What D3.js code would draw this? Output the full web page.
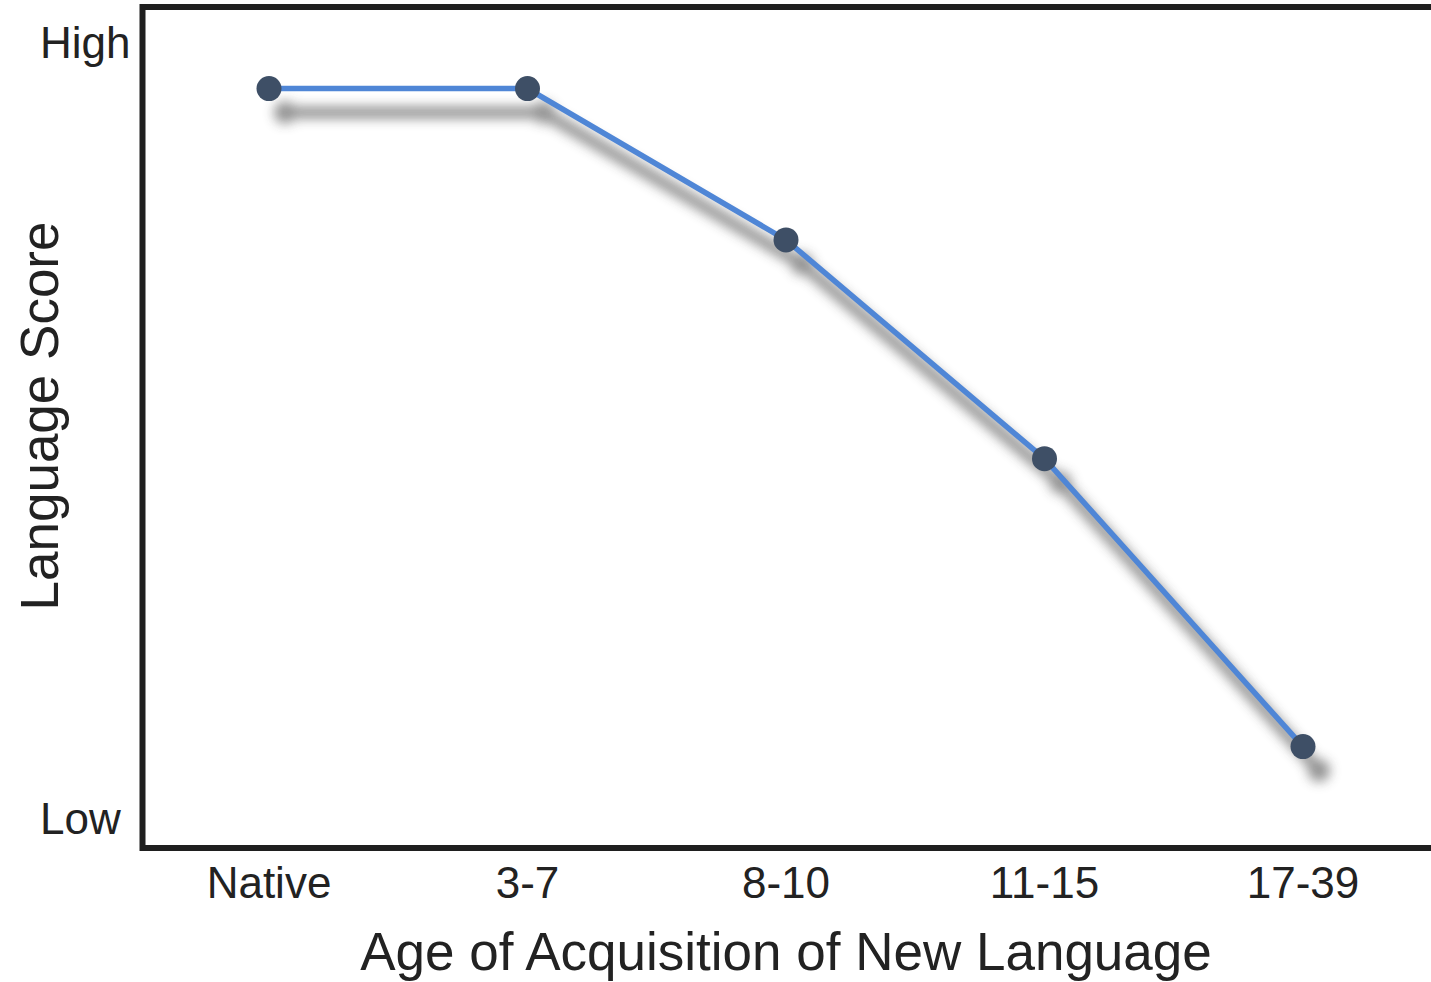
<!DOCTYPE html>
<html>
<head>
<meta charset="utf-8">
<style>
    body { margin: 0; background: #fff; }
    svg { display: block; font-family: Arial, 'Liberation Sans', sans-serif; }
    text { fill: #222; }
</style>
</head>
<body>
<svg width="1431" height="982"></svg>
<script src="https://d3js.org/d3.v7.min.js"></script>
<script>
    // data (score on a 0-100 scale, Low=0, High=100)
    const ageGroups = ["Native", "3-7", "8-10", "11-15", "17-39"];
    const scores = [94, 94, 74.5, 46.3, 9.2];
    const yTickLabels = ["Low", "High"];
    const yTickValues = [0, 100];

    const svg = d3.select("svg");

    const x = d3.scalePoint()
        .domain(ageGroups)
        .range([269, 1303]);

    const y = d3.scaleLinear()
        .domain([0, 100])
        .range([818, 42]);

    const data = ageGroups.map((g, i) => ({ group: g, score: scores[i] }));

    // blur for the soft shadow under the line
    const defs = svg.append("defs");
    defs.append("filter")
        .attr("id", "blur")
        .attr("x", "-20%").attr("y", "-20%")
        .attr("width", "140%").attr("height", "140%")
        .append("feGaussianBlur")
        .attr("stdDeviation", 6);

    // frame (right side runs off the picture)
    svg.append("rect")
        .attr("x", 142.5)
        .attr("y", 7)
        .attr("width", 1320)
        .attr("height", 841)
        .style("fill", "none")
        .style("stroke", "#1f1f1f")
        .style("stroke-width", 6);

    let line = d3.line()
        .x(d => x(d.group))
        .y(d => y(d.score));

    // shadow copy
    let shadow = svg.append("g")
        .attr("transform", "translate(16,24)")
        .attr("filter", "url(#blur)")
        .style("opacity", 0.55);

    shadow.append("path")
        .datum(data)
        .attr("d", line)
        .style("fill", "none")
        .style("stroke", "#3a3a3a")
        .style("stroke-width", 12);

    shadow.selectAll(".sdot")
        .data(data)
        .join("circle")
        .attr("class", "sdot")
        .attr("cx", d => x(d.group))
        .attr("cy", d => y(d.score))
        .attr("r", 11)
        .style("fill", "#3a3a3a");

    svg.append("path")
        .datum(data)
        .attr("d", line)
        .style("fill", "none")
        .style("stroke", "#4f86d6")
        .style("stroke-width", 5.5);

    svg.selectAll(".dot")
        .data(data)
        .join("circle")
        .attr("class", "dot")
        .attr("cx", d => x(d.group))
        .attr("cy", d => y(d.score))
        .attr("r", 12.5)
        .style("fill", "#3e4f66");

    // y tick labels
    svg.selectAll(".ylab")
        .data(yTickValues)
        .join("text")
        .attr("class", "ylab")
        .attr("x", 40)
        .attr("y", d => y(d))
        .attr("dy", "0.36em")
        .style("font-size", "44px")
        .text((d, i) => yTickLabels[i]);

    // x tick labels
    svg.selectAll(".xlab")
        .data(ageGroups)
        .join("text")
        .attr("class", "xlab")
        .attr("x", d => x(d))
        .attr("y", 898)
        .attr("text-anchor", "middle")
        .style("font-size", "44px")
        .text(d => d);

    // axis titles
    svg.append("text")
        .attr("x", 786)
        .attr("y", 970)
        .attr("text-anchor", "middle")
        .style("font-size", "53px")
        .text("Age of Acquisition of New Language");

    svg.append("text")
        .attr("transform", "translate(58,416) rotate(-90)")
        .attr("text-anchor", "middle")
        .style("font-size", "53px")
        .text("Language Score");
</script>
</body>
</html>
